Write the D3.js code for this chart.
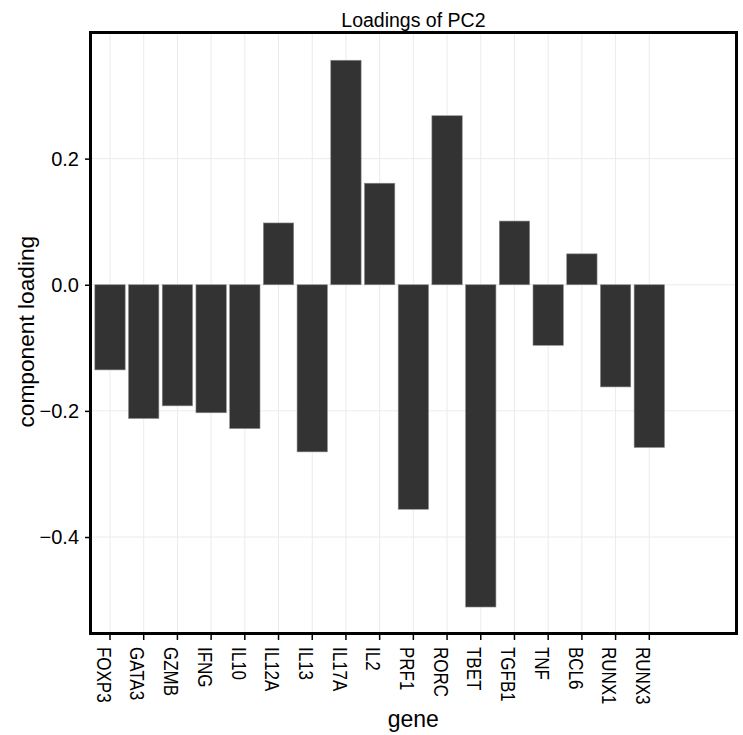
<!DOCTYPE html>
<html lang="en">
<head>
  <meta charset="UTF-8">
  <title>Loadings of PC2</title>
  <style>
    body{ margin: 0; background: #fff; }
    text{ font-family: "Liberation Sans", Arial, Helvetica, sans-serif; fill: #000; }
    .grid line{ stroke: #ebebeb; stroke-width: 1px; }
    .bar{ fill: #333333; stroke: #8a8a8a; stroke-width: 0.6px; }
  </style>
</head>
<body>
  <script src="https://cdn.jsdelivr.net/npm/d3@7"></script>
  <script>
    const genes = ['FOXP3', 'GATA3', 'GZMB', 'IFNG', 'IL10', 'IL12A', 'IL13', 'IL17A', 'IL2',
                   'PRF1', 'RORC', 'TBET', 'TGFB1', 'TNF', 'BCL6', 'RUNX1', 'RUNX3'];
    const loadings = [-0.135, -0.212, -0.192, -0.203, -0.228, 0.098, -0.265, 0.356, 0.161,
                      -0.356, 0.268, -0.511, 0.101, -0.096, 0.049, -0.162, -0.258];
    const yTicks = [-0.4, -0.2, 0.0, 0.2];

    const width = 743, height = 735;
    const panel = {left: 90.5, right: 736.5, top: 32.5, bottom: 633.5};

    const x = d3.scaleBand().domain(genes).range([93.15, 666.15])
      .paddingInner(0.1).paddingOuter(0.05);
    const y = d3.scaleLinear().domain([-0.553, 0.4]).range([panel.bottom, panel.top]);

    const svg = d3.select('body').append('svg')
      .attr('width', width).attr('height', height);

    // grid
    const grid = svg.append('g').attr('class', 'grid');
    grid.selectAll('line.v').data(genes).enter().append('line')
      .attr('x1', d => x(d) + x.bandwidth() / 2).attr('x2', d => x(d) + x.bandwidth() / 2)
      .attr('y1', panel.top).attr('y2', panel.bottom);
    grid.selectAll('line.h').data(yTicks).enter().append('line')
      .attr('x1', panel.left).attr('x2', panel.right)
      .attr('y1', d => y(d)).attr('y2', d => y(d));

    // bars
    svg.append('g').selectAll('rect').data(genes).enter().append('rect')
      .attr('class', 'bar')
      .attr('x', d => x(d))
      .attr('width', x.bandwidth())
      .attr('y', (d, i) => y(Math.max(0, loadings[i])))
      .attr('height', (d, i) => Math.abs(y(loadings[i]) - y(0)));

    // panel border
    svg.append('rect')
      .attr('x', panel.left).attr('y', panel.top)
      .attr('width', panel.right - panel.left).attr('height', panel.bottom - panel.top)
      .attr('fill', 'none').attr('stroke', '#000').attr('stroke-width', 3);

    // y axis
    const yAxis = d3.axisLeft(y).tickValues(yTicks).tickSize(4).tickPadding(6)
      .tickFormat(d => d3.format('.1f')(d).replace('-', '\u2212'));
    const ya = svg.append('g').attr('transform', `translate(${panel.left - 1.5},0)`).call(yAxis);
    ya.select('.domain').remove();
    ya.selectAll('.tick line').attr('stroke', '#000').attr('stroke-width', 1.5);
    ya.selectAll('.tick text').attr('font-size', '20px').attr('fill', '#000')
      .attr('font-family', '"Liberation Sans", Arial, sans-serif');

    // x axis
    const xAxis = d3.axisBottom(x).tickSize(5).tickFormat('');
    const xa = svg.append('g').attr('transform', `translate(0,${panel.bottom + 1.5})`).call(xAxis);
    xa.select('.domain').remove();
    xa.selectAll('.tick line').attr('stroke', '#000').attr('stroke-width', 1.5);
    xa.selectAll('.tick').append('text')
      .attr('transform', 'translate(0,' + (647 - panel.bottom - 1.5) + ') rotate(90) scale(0.87,1)')
      .attr('x', 0).attr('y', 13.3)
      .attr('text-anchor', 'start')
      .attr('font-size', '19.5px').attr('fill', '#000')
      .attr('font-family', '"Liberation Sans", Arial, sans-serif')
      .text(d => d);

    // titles
    svg.append('text').attr('x', 413.4).attr('y', 27).attr('text-anchor', 'middle')
      .attr('font-size', '19.5px').text('Loadings of PC2');
    svg.append('text').attr('x', 413.3).attr('y', 726.5).attr('text-anchor', 'middle')
      .attr('font-size', '23px').text('gene');
    svg.append('text').attr('transform', 'translate(33.5,331.7) rotate(-90)')
      .attr('text-anchor', 'middle').attr('font-size', '22.7px').text('component loading');
  </script>
</body>
</html>
